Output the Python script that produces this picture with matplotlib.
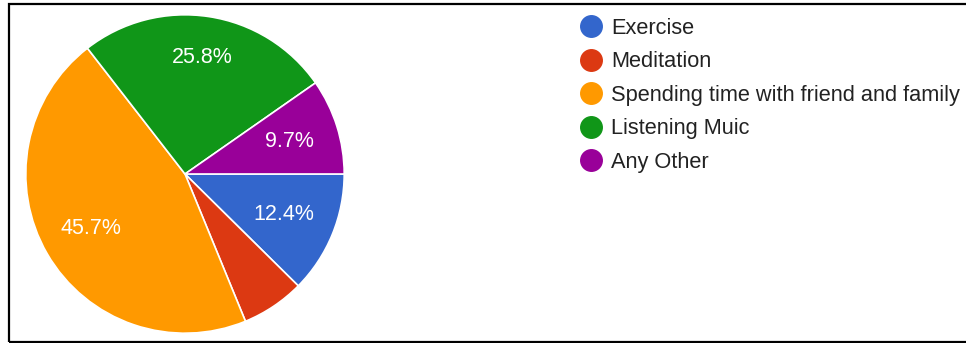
import numpy as np
import matplotlib.pyplot as plt
from matplotlib.lines import Line2D
from matplotlib.patches import Rectangle

plt.rcParams['font.family'] = ['Liberation Sans', 'DejaVu Sans']

categorias = ['Exercise', 'Meditation', 'Spending time with friend and family',
              'Listening Muic', 'Any Other']
porcentajes = [12.4, 6.4, 45.7, 25.8, 9.7]
colores = ['#3366cc', '#dc3912', '#ff9900', '#109618', '#990099']

W, H = 966, 343
fig = plt.figure(figsize=(W / 100, H / 100), dpi=100, facecolor='w')

# marco negro (arriba, izquierda, abajo)
fig.add_artist(Rectangle((9 / W, 1 - 342 / H), 1.0, (342 - 4) / H,
                         transform=fig.transFigure, fill=False,
                         edgecolor='black', linewidth=1.6))

ax = fig.add_axes([25 / W, 9 / H, 320 / W, 320 / H])


def etiqueta(pct):
    # las porciones chicas van sin etiqueta
    return '%.1f%%' % pct if pct >= 7 else ''


wedges, textos, autotextos = ax.pie(
    porcentajes, colors=colores, startangle=0, counterclock=False,
    autopct=etiqueta, pctdistance=0.68,
    wedgeprops=dict(edgecolor='white', linewidth=1.2),
    textprops=dict(color='white', fontsize=15.5))

# distancia de cada etiqueta al centro
dist_etiq = [0.67, 0.68, 0.68, 0.74, 0.69]
for w, t, d in zip(wedges, autotextos, dist_etiq):
    ang = np.deg2rad((w.theta1 + w.theta2) / 2)
    t.set_position((d * np.cos(ang), d * np.sin(ang)))

ax.set_xlim(-1.005, 1.005)
ax.set_ylim(-1.005, 1.005)
ax.set_aspect('equal')

handles = [Line2D([], [], marker='o', linestyle='', markersize=15.5,
                  markerfacecolor=c, markeredgecolor=c) for c in colores]
fig.legend(handles, categorias, loc='upper left',
           bbox_to_anchor=(580 / W, 1 - 18 / H), frameon=False,
           fontsize=15.7, labelcolor='#222222', borderpad=0, borderaxespad=0,
           handlelength=1.0, handletextpad=0.42, labelspacing=0.57)

fig.savefig('out.png', dpi=100)
